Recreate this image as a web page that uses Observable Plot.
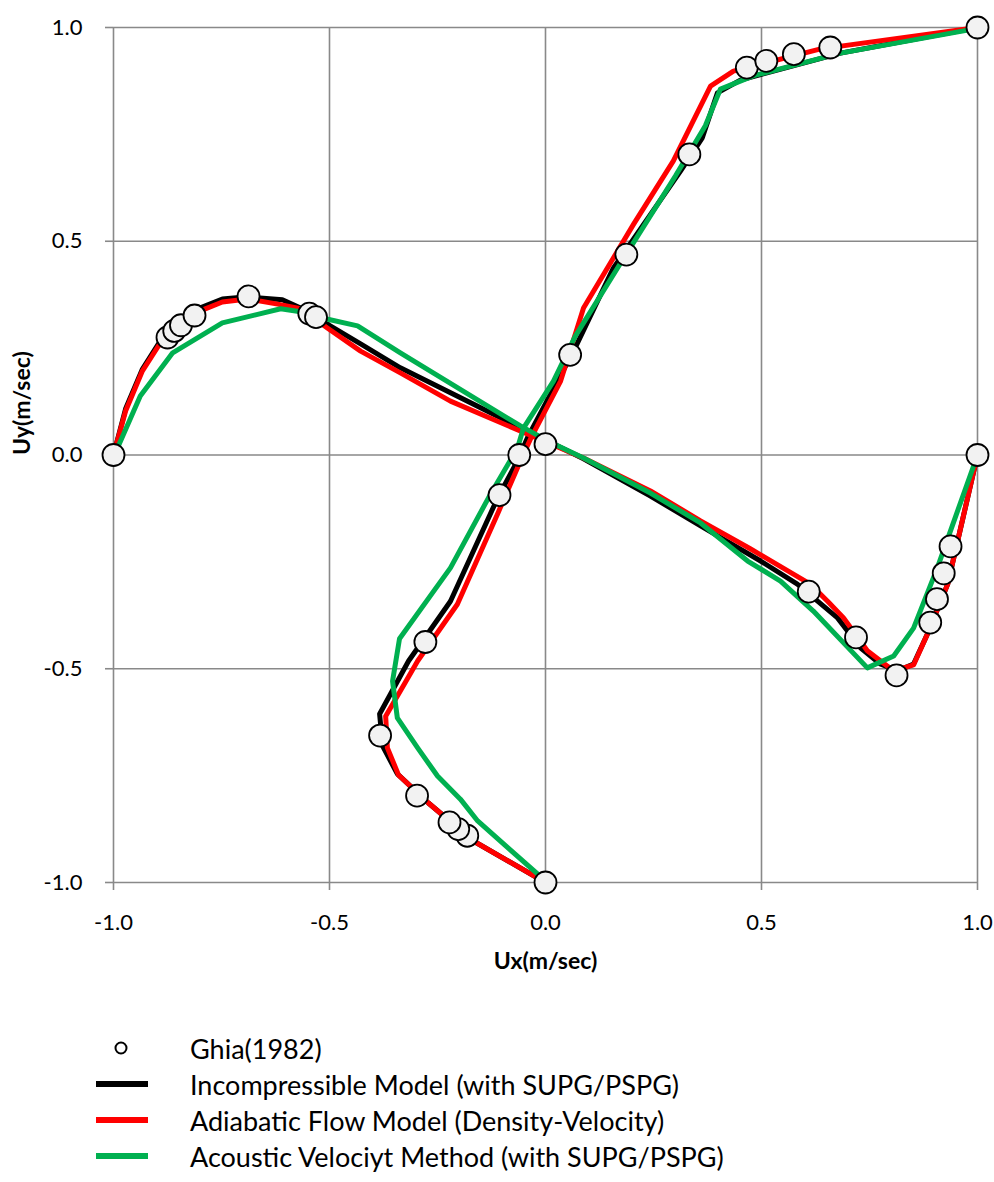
<!DOCTYPE html>
<html>
<head>
<meta charset="utf-8">
<script src="https://cdn.jsdelivr.net/npm/d3@7"></script>
<script src="https://cdn.jsdelivr.net/npm/@observablehq/plot@0.6"></script>
<style>
  html, body { margin: 0; padding: 0; background: #fff; }
  body { width: 994px; font-family: Lato, "Open Sans", sans-serif; }
  #legend { padding-top: 30px; }
  .row { display: flex; align-items: center; height: 36px; }
  .row svg { flex: none; }
  .row span { margin-left: 42px; font-size: 27px; color: #000; white-space: nowrap; }
</style>
</head>
<body>
<div id="chart"></div>
<div id="legend"></div>
<script>
// ---- Tick labels ----
const ticks = [-1.0, -0.5, 0.0, 0.5, 1.0];

// ---- Ghia (1982), Re = 1000 ----
// Ux along the vertical centreline (position mapped to [-1, 1])
const ghiaU_ux = [0, -0.18109, -0.20196, -0.22220, -0.29730, -0.38289, -0.27805, -0.10648, -0.06080, 0.05702, 0.18719, 0.33304, 0.46604, 0.51117, 0.57492, 0.65928, 1];
const ghiaU_pos = [-1, -0.8906, -0.875, -0.8594, -0.7968, -0.6562, -0.4374, -0.0938, 0, 0.2344, 0.4688, 0.7032, 0.9062, 0.9218, 0.9376, 0.9532, 1];
// Uy along the horizontal centreline
const ghiaV_pos = [-1, -0.875, -0.8594, -0.8438, -0.8124, -0.6874, -0.5468, -0.5312, 0, 0.6094, 0.7188, 0.8126, 0.8906, 0.9062, 0.9218, 0.9376, 1];
const ghiaV_uy = [0, 0.27485, 0.29012, 0.30353, 0.32627, 0.37095, 0.33075, 0.32235, 0.02526, -0.31966, -0.42665, -0.51550, -0.39188, -0.33714, -0.27669, -0.21388, 0];

// ---- Incompressible Model (with SUPG/PSPG) ----
const incU_ux = [0, -0.167, -0.271, -0.343, -0.377, -0.384, -0.317, -0.220, -0.111, -0.065, -0.042, 0.028, 0.065, 0.157, 0.3125, 0.363, 0.398, 0.451, 0.683, 1];
const incU_pos = [-1, -0.903, -0.814, -0.746, -0.681, -0.606, -0.482, -0.342, -0.101, -0.014, 0.040, 0.173, 0.243, 0.437, 0.664, 0.742, 0.847, 0.877, 0.940, 1];
const incV_pos = [-1, -0.972, -0.933, -0.896, -0.852, -0.799, -0.748, -0.690, -0.609, -0.567, -0.505, -0.428, -0.336, -0.042, 0.088, 0.243, 0.359, 0.498, 0.583, 0.676, 0.729, 0.775, 0.815, 0.852, 0.884, 0.931, 1];
const incV_uy = [0, 0.108, 0.201, 0.260, 0.309, 0.344, 0.365, 0.370, 0.363, 0.344, 0.306, 0.260, 0.204, 0.056, -0.009, -0.096, -0.166, -0.248, -0.302, -0.381, -0.451, -0.489, -0.505, -0.489, -0.419, -0.302, 0];

// ---- Adiabatic Flow Model (Density-Velocity) ----
const adiU_ux = [0, -0.167, -0.271, -0.340, -0.366, -0.370, -0.324, -0.296, -0.204, -0.111, -0.058, -0.035, 0.035, 0.088, 0.204, 0.296, 0.382, 0.435, 0.637, 1];
const adiU_pos = [-1, -0.903, -0.814, -0.749, -0.685, -0.611, -0.531, -0.482, -0.349, -0.138, -0.014, 0.037, 0.173, 0.344, 0.540, 0.688, 0.863, 0.898, 0.950, 1];
const adiV_pos = [-1, -0.972, -0.933, -0.896, -0.852, -0.799, -0.748, -0.690, -0.620, -0.567, -0.505, -0.428, -0.336, -0.220, -0.042, 0.088, 0.243, 0.359, 0.475, 0.613, 0.653, 0.690, 0.745, 0.806, 0.852, 0.884, 0.931, 1];
const adiV_uy = [0, 0.103, 0.197, 0.255, 0.302, 0.337, 0.358, 0.365, 0.353, 0.342, 0.297, 0.243, 0.192, 0.126, 0.049, -0.007, -0.084, -0.154, -0.220, -0.302, -0.342, -0.381, -0.458, -0.505, -0.491, -0.419, -0.302, 0];

// ---- Acoustic Velocity Method (with SUPG/PSPG) ----
const acoU_ux = [0, -0.0185, -0.157, -0.197, -0.250, -0.296, -0.343, -0.354, -0.338, -0.220, -0.127, -0.065, -0.051, 0.0185, 0.069, 0.174, 0.301, 0.370, 0.405, 0.481, 0.683, 1];
const acoU_pos = [-1, -0.980, -0.856, -0.805, -0.751, -0.685, -0.615, -0.529, -0.430, -0.264, -0.091, 0.016, 0.063, 0.173, 0.278, 0.449, 0.653, 0.770, 0.856, 0.887, 0.940, 0.998];
const acoV_pos = [-1, -0.991, -0.938, -0.863, -0.748, -0.613, -0.567, -0.514, -0.435, -0.336, -0.058, 0.005, 0.088, 0.243, 0.359, 0.468, 0.544, 0.620, 0.745, 0.806, 0.852, 0.907, 1];
const acoV_uy = [0, 0.016, 0.138, 0.239, 0.309, 0.342, 0.335, 0.320, 0.302, 0.239, 0.068, 0.033, -0.007, -0.089, -0.159, -0.248, -0.295, -0.365, -0.498, -0.470, -0.405, -0.264, 0];

// ---- Series names and colours ----
const seriesNames = ["Ghia(1982)", "Incompressible Model (with SUPG/PSPG)", "Adiabatic Flow Model (Density-Velocity)", "Acoustic Velociyt Method (with SUPG/PSPG)"];
const seriesColors = ["#000000", "#000000", "#ff0000", "#00b050"];

// build tables
function rows(series, profile, xs, ys) {
  return xs.map((x, i) => ({series, profile, x, y: ys[i]}));
}
const ghia = [...rows(0, "u", ghiaU_ux, ghiaU_pos), ...rows(0, "v", ghiaV_pos, ghiaV_uy)];
const lineSets = [
  [...rows(1, "u", incU_ux, incU_pos), ...rows(1, "v", incV_pos, incV_uy)],
  [...rows(2, "u", adiU_ux, adiU_pos), ...rows(2, "v", adiV_pos, adiV_uy)],
  [...rows(3, "u", acoU_ux, acoU_pos), ...rows(3, "v", acoV_pos, acoV_uy)]
];

const grid = "#898989";
const fmt = d => d.toFixed(1);

const chart = Plot.plot({
  width: 994,
  height: 1000,
  marginLeft: 113,
  marginRight: 17,
  marginTop: 27,
  marginBottom: 118,
  style: {fontFamily: "Lato, 'Open Sans', sans-serif", fontSize: "22px", color: "#000", background: "#fff"},
  x: {domain: [-1, 1]},
  y: {domain: [-1, 1]},
  marks: [
    Plot.gridX(ticks, {stroke: grid, strokeOpacity: 1, strokeWidth: 1.6}),
    Plot.gridY(ticks, {stroke: grid, strokeOpacity: 1, strokeWidth: 1.6}),
    Plot.axisX(ticks, {tickSize: 8, tickPadding: 24, stroke: grid, strokeWidth: 1.6, tickFormat: fmt, label: null, fill: "#000"}),
    Plot.axisY(ticks, {tickSize: 8, tickPadding: 23, stroke: grid, strokeWidth: 1.6, tickFormat: fmt, label: null, fill: "#000"}),
    Plot.text(["Ux(m/sec)"], {frameAnchor: "bottom", dy: 86, fontWeight: "bold", fontSize: 23, fill: "#000"}),
    Plot.text(["Uy(m/sec)"], {frameAnchor: "left", dx: -91, rotate: -90, fontWeight: "bold", fontSize: 23, fill: "#000"}),
    ...lineSets.map((d, k) => Plot.line(d, {x: "x", y: "y", z: "profile", stroke: seriesColors[k + 1], strokeWidth: 5, strokeLinejoin: "round", strokeLinecap: "round"})),
    Plot.dot(ghia, {x: "x", y: "y", r: 11, fill: "#f2f2f2", stroke: "#000", strokeWidth: 1.8})
  ]
});
document.getElementById("chart").appendChild(chart);

// legend
const legend = document.getElementById("legend");
seriesNames.forEach((name, i) => {
  const row = document.createElement("div");
  row.className = "row";
  const sw = d3.create("svg").attr("width", 148).attr("height", 36);
  if (i === 0) {
    sw.append("circle").attr("cx", 121).attr("cy", 18).attr("r", 5.5).attr("fill", "#fff").attr("stroke", "#000").attr("stroke-width", 2);
  } else {
    sw.append("line").attr("x1", 96).attr("x2", 148).attr("y1", 18).attr("y2", 18).attr("stroke", seriesColors[i]).attr("stroke-width", 6);
  }
  row.appendChild(sw.node());
  const s = document.createElement("span");
  s.textContent = name;
  row.appendChild(s);
  legend.appendChild(row);
});
</script>
</body>
</html>
